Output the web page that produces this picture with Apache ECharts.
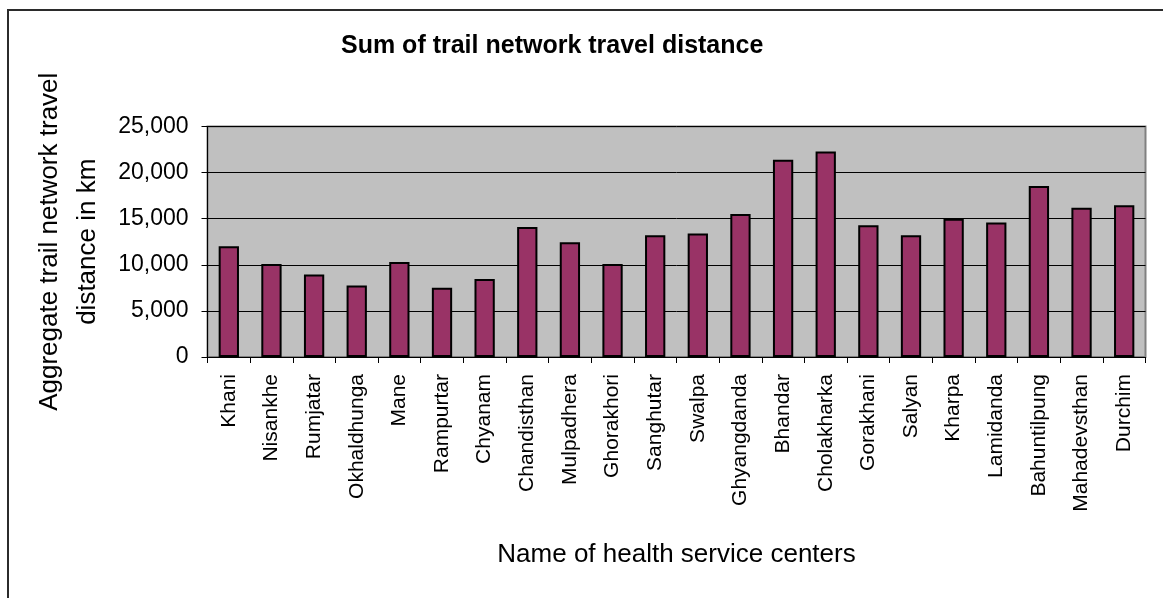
<!DOCTYPE html>
<html>
<head>
<meta charset="utf-8">
<title>Sum of trail network travel distance</title>
<script src="https://cdn.jsdelivr.net/npm/echarts@6/dist/echarts.min.js"></script>
<style>
  html, body { margin: 0; padding: 0; background: #ffffff; }
  #chart { width: 1163px; height: 598px; }
</style>
</head>
<body>
<div id="chart"></div>
<script>
// Health service centers along the x axis
const centers = [
  'Khani', 'Nisankhe', 'Rumjatar', 'Okhaldhunga', 'Mane', 'Rampurtar',
  'Chyanam', 'Chandisthan', 'Mulpadhera', 'Ghorakhori', 'Sanghutar',
  'Swalpa', 'Ghyangdanda', 'Bhandar', 'Cholakharka', 'Gorakhani',
  'Salyan', 'Kharpa', 'Lamidanda', 'Bahuntilpung', 'Mahadevsthan', 'Durchim'
];

// Aggregate trail network travel distance (km) per center
const travelDistance = [
  12000, 10100, 8950, 7750, 10300, 7500,
  8450, 14100, 12450, 10100, 13200,
  13400, 15500, 21400, 22300, 14300,
  13200, 15000, 14600, 18550, 16200, 16450
];

// Value axis ticks
const yMin = 0;
const yMax = 25000;
const yStep = 5000;

const FONT = "'Liberation Sans', Arial, sans-serif";

const chart = echarts.init(document.getElementById('chart'), null, { renderer: 'canvas' });

chart.setOption({
  animation: false,
  backgroundColor: '#ffffff',
  textStyle: { fontFamily: FONT, color: '#000' },
  title: {
    text: 'Sum of trail network travel distance',
    left: 336,
    top: 29,
    textStyle: { fontFamily: FONT, fontSize: 25, fontWeight: 'bold', color: '#000' }
  },
  graphic: [
    {
      // outer chart frame
      type: 'rect',
      z: 100,
      shape: { x: 8, y: 10, width: 1300, height: 800 },
      style: { fill: 'none', stroke: '#2b2b2b', lineWidth: 2 }
    }
  ],
  grid: {
    left: 207.5,
    top: 126.5,
    right: 17.5,
    bottom: 241,
    show: true,
    backgroundColor: '#c0c0c0',
    borderColor: '#808080',
    borderWidth: 2
  },
  xAxis: {
    type: 'category',
    data: centers,
    name: 'Name of health service centers',
    nameLocation: 'middle',
    nameGap: 185,
    nameTextStyle: { fontFamily: FONT, fontSize: 26, color: '#000' },
    axisLine: { show: true, lineStyle: { color: '#000', width: 1 } },
    axisTick: { show: true, length: 6, lineStyle: { color: '#000' } },
    axisLabel: {
      rotate: 90,
      interval: 0,
      margin: 17,
      fontFamily: FONT,
      fontSize: 21,
      color: '#000'
    },
    splitLine: { show: false }
  },
  yAxis: {
    type: 'value',
    min: yMin,
    max: yMax,
    interval: yStep,
    name: 'Aggregate trail network travel\ndistance in km',
    nameLocation: 'middle',
    nameRotate: 90,
    nameGap: 97,
    nameTextStyle: { fontFamily: FONT, fontSize: 26, lineHeight: 38, color: '#000', align: 'center' },
    axisLine: { show: true, lineStyle: { color: '#000', width: 1 } },
    axisTick: { show: true, length: 6, lineStyle: { color: '#000' } },
    axisLabel: {
      margin: 19,
      fontFamily: FONT,
      fontSize: 23,
      color: '#000',
      formatter: v => v.toLocaleString('en-US')
    },
    splitLine: { show: true, lineStyle: { color: '#000', width: 1 } }
  },
  series: [
    {
      type: 'bar',
      data: travelDistance,
      barWidth: '47.6%',
      itemStyle: { color: '#993366', borderColor: '#000', borderWidth: 2 }
    }
  ]
});
</script>
</body>
</html>
